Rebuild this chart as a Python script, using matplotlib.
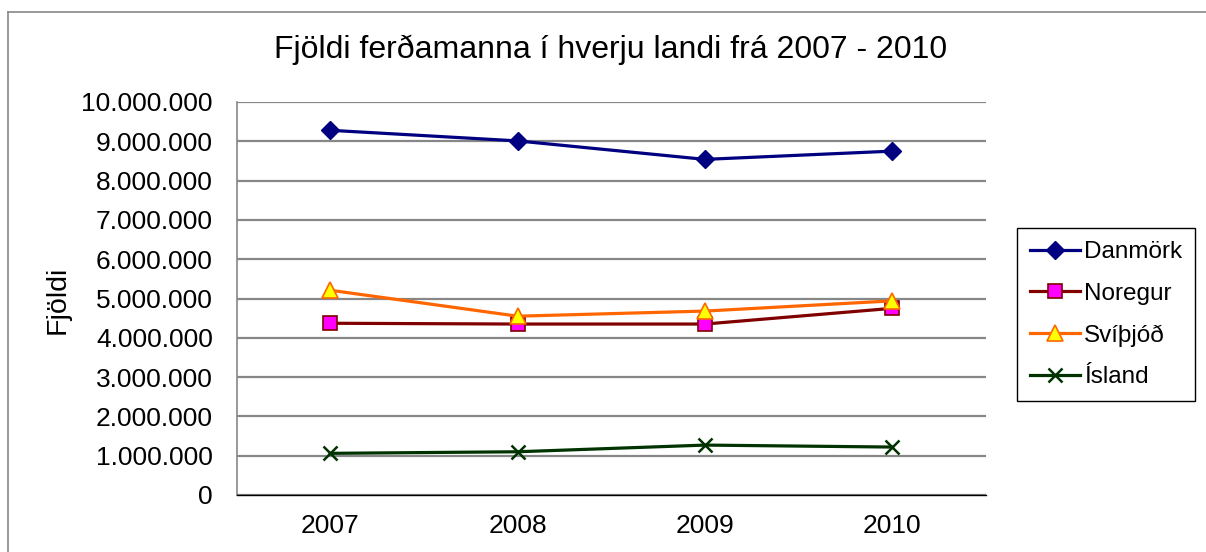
import matplotlib
matplotlib.use("Agg")
import matplotlib.pyplot as plt
from matplotlib.ticker import FuncFormatter, MultipleLocator
from matplotlib.lines import Line2D

plt.rcParams['font.family'] = ['Liberation Sans', 'DejaVu Sans']

years = ['2007', '2008', '2009', '2010']
danmork = [9280000, 9010000, 8540000, 8750000]
noregur = [4370000, 4350000, 4350000, 4750000]
svithjod = [5210000, 4550000, 4680000, 4940000]
island = [1060000, 1100000, 1270000, 1220000]

title = 'Fjöldi ferðamanna í hverju landi frá 2007 - 2010'
ylabel = 'Fjöldi'

W, H = 1206, 552
fig = plt.figure(figsize=(W / 100, H / 100), dpi=100)
fig.patch.set_facecolor('white')

ax = fig.add_axes([236.5 / W, 1 - 495 / H, (986 - 236.5) / W, (495 - 102) / H])
x = list(range(len(years)))

fs = 19
lw = 2.3
ax.plot(x, danmork, color='#000080', lw=lw, marker='D', markersize=9,
        markerfacecolor='#000080', markeredgecolor='#000080', label='Danmörk', zorder=5)
ax.plot(x, noregur, color='#800000', lw=lw, marker='s', markersize=10,
        markerfacecolor='#FF00FF', markeredgecolor='#800000', markeredgewidth=1.2,
        label='Noregur', zorder=4)
ax.plot(x, svithjod, color='#FF6600', lw=lw, marker='^', markersize=11,
        markerfacecolor='#FFFF00', markeredgecolor='#FF6600', markeredgewidth=1.2,
        label='Svíþjóð', zorder=6)
ax.plot(x, island, color='#003300', lw=lw, marker='x', markersize=10,
        markeredgewidth=1.8, label='Ísland', zorder=5)

ax.set_xlim(-0.5, len(years) - 0.5)
ax.set_ylim(0, 10000000)
ax.yaxis.set_major_locator(MultipleLocator(1000000))
ax.yaxis.set_major_formatter(FuncFormatter(lambda v, p: f"{int(round(v)):,}".replace(",", ".")))
ax.set_xticks(x)
ax.set_xticklabels(years)
ax.tick_params(axis='y', length=0, pad=17, labelsize=fs)
ax.tick_params(axis='x', length=0, pad=14, labelsize=fs)

ax.grid(axis='y', color='#878787', lw=1.6)
ax.set_axisbelow(True)
for s in ['top', 'right']:
    ax.spines[s].set_visible(False)
ax.spines['left'].set_color('#878787')
ax.spines['left'].set_linewidth(1.2)
ax.spines['bottom'].set_color('#000000')
ax.spines['bottom'].set_linewidth(1.0)

fig.text(611 / W, 1 - 50 / H, title, ha='center', va='center', fontsize=23)
fig.text(58 / W, 1 - 300 / H, ylabel, ha='center', va='center', rotation=90, fontsize=20.5)

leg = ax.legend(loc='upper left', bbox_to_anchor=(1017 / W, 1 - 228 / H),
                bbox_transform=fig.transFigure, borderaxespad=0, fontsize=17.5,
                fancybox=False, framealpha=1, edgecolor='#000000',
                handlelength=2.05, handletextpad=0.15, labelspacing=0.8,
                borderpad=0.55)
leg.get_frame().set_linewidth(1.0)

# chart border (left and top edges visible)
fig.add_artist(Line2D([7.5 / W, 7.5 / W], [0, 1 - 12.3 / H], color='#888888', lw=1.2,
                      transform=fig.transFigure))
fig.add_artist(Line2D([7.5 / W, 1], [1 - 12.3 / H, 1 - 12.3 / H], color='#888888', lw=1.2,
                      transform=fig.transFigure))

fig.savefig('out.png', dpi=100)
